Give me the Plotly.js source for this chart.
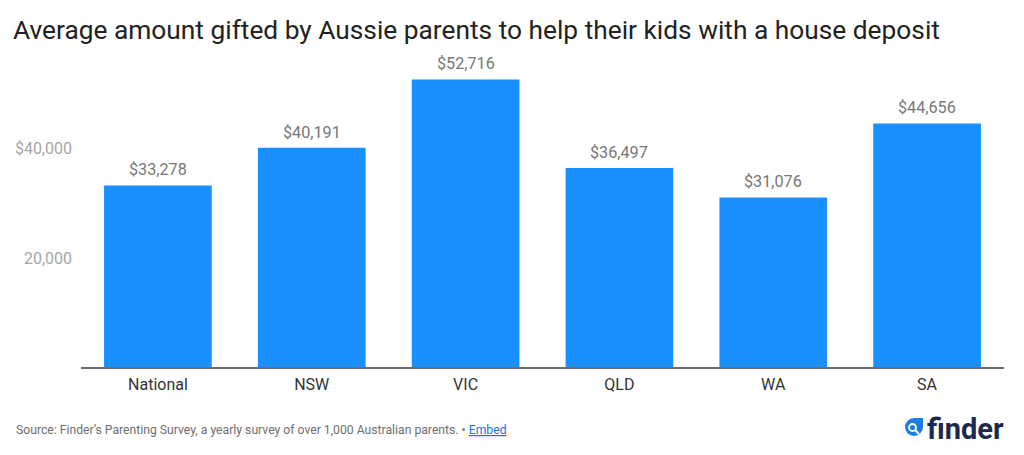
<!DOCTYPE html>
<html>
<head>
<meta charset="utf-8">
<script src="https://cdn.plot.ly/plotly-3.0.1.min.js"></script>
<style>
html,body{margin:0;padding:0;background:#fff;}
#chart{width:1024px;height:455px;}
</style>
</head>
<body>
<div id="chart"></div>
<script>
const categories = ["National", "NSW", "VIC", "QLD", "WA", "SA"];
const amounts = [33278, 40191, 52716, 36497, 31076, 44656];
const amountLabels = ["$33,278", "$40,191", "$52,716", "$36,497", "$31,076", "$44,656"];
const yTickValues = [20000, 40000];
const yTickLabels = ["20,000", "$40,000"];
const titleText = "Average amount gifted by Aussie parents to help their kids with a house deposit";
const sourceText = "Source: Finder\u2019s Parenting Survey, a yearly survey of over 1,000 Australian parents. \u2022 <a href='#' style='color:#1a73e8'><u>Embed</u></a>";

const W = 1024, H = 455;
const M = {l: 81, r: 20, t: 67, b: 88};
const PW = W - M.l - M.r, PH = H - M.t - M.b;
const px = p => (p - M.l) / PW;
const py = p => (H - M.b - p) / PH;

const FONT = "Roboto, 'Noto Sans', Arial, sans-serif";

const barTrace = {
  type: "bar",
  x: categories,
  y: amounts,
  marker: {color: "#1890ff", line: {width: 0}},
  hoverinfo: "none"
};

const annotations = categories.map((c, i) => ({
  x: c, y: amounts[i], xref: "x", yref: "y",
  text: amountLabels[i], showarrow: false,
  yanchor: "bottom", yshift: 4,
  font: {family: FONT, size: 16.2, color: "#777777"}
}));

annotations.push({
  xref: "paper", yref: "paper", x: px(14), y: py(430),
  xanchor: "left", yanchor: "middle", showarrow: false,
  text: sourceText,
  font: {family: FONT, size: 12.2, color: "#6f6f6f"}
});

annotations.push({
  xref: "paper", yref: "paper", x: px(925), y: py(429),
  xanchor: "left", yanchor: "middle", showarrow: false,
  text: "<b>finder</b>",
  font: {family: FONT, size: 29, color: "#1b2a4c"}
});

const shapes = [
  {type: "circle", xref: "paper", yref: "paper",
   x0: px(905), x1: px(923), y0: py(436), y1: py(418),
   fillcolor: "#1a7ee6", line: {width: 0}},
  {type: "rect", xref: "paper", yref: "paper",
   x0: px(914), x1: px(923), y0: py(427), y1: py(418),
   fillcolor: "#1a7ee6", line: {width: 0}},
  {type: "circle", xref: "paper", yref: "paper",
   x0: px(909), x1: px(916), y0: py(431), y1: py(424),
   fillcolor: "rgba(0,0,0,0)", line: {color: "#ffffff", width: 1.8}},
  {type: "line", xref: "paper", yref: "paper",
   x0: px(915), x1: px(919), y0: py(430), y1: py(434),
   line: {color: "#ffffff", width: 2}}
];

const layout = {
  width: W, height: H,
  margin: M,
  paper_bgcolor: "#ffffff",
  plot_bgcolor: "#ffffff",
  bargap: 0.3,
  showlegend: false,
  title: {
    text: titleText,
    x: 13 / W, xanchor: "left", xref: "container",
    y: 1 - 30 / H, yanchor: "middle", yref: "container",
    font: {family: FONT, size: 26.3, color: "#222222"}
  },
  xaxis: {
    type: "category",
    showgrid: false,
    showline: true, linecolor: "#6e6e6e", linewidth: 1.5,
    ticks: "", ticklabelstandoff: 2,
    tickfont: {family: FONT, size: 16, color: "#333333"},
    fixedrange: true
  },
  yaxis: {
    range: [0, 55000],
    showgrid: false, zeroline: false, showline: false,
    tickvals: yTickValues, ticktext: yTickLabels,
    ticks: "", ticklabelstandoff: 8,
    tickfont: {family: FONT, size: 16, color: "#a6a6a6"},
    fixedrange: true
  },
  annotations: annotations,
  shapes: shapes,
  font: {family: FONT}
};

Plotly.newPlot("chart", [barTrace], layout, {displayModeBar: false, staticPlot: true});
</script>
</body>
</html>
